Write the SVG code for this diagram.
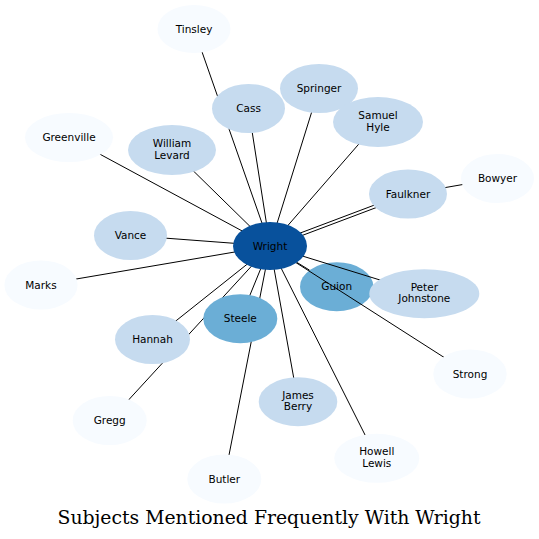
<svg xmlns="http://www.w3.org/2000/svg" width="539" height="539" viewBox="0 0 539 539">
<style>
.e{stroke:#000;stroke-width:1;fill:none}
.l0{fill:#f7fbff}
.l1{fill:#c6dbef}
.l2{fill:#6baed6}
.l3{fill:#08519c}
text{font-family:"DejaVu Sans","Liberation Sans",sans-serif;font-size:10.5px;fill:#000;text-anchor:middle}
.title{font-family:"DejaVu Serif","Liberation Serif",serif;font-size:18px}
</style>
<rect width="539" height="539" fill="#fff"/>
<g id="node-guion"><ellipse class="l2" cx="336.7" cy="286.7" rx="36.7" ry="24.5"/><text x="336.7" y="290.2">Guion</text></g>
<g id="connectors">
<line class="e" x1="270" y1="246" x2="194" y2="29"/>
<line class="e" x1="270" y1="246" x2="248.5" y2="108.5"/>
<line class="e" x1="270" y1="246" x2="319" y2="88.5"/>
<line class="e" x1="270" y1="246" x2="378" y2="122"/>
<line class="e" x1="270" y1="246" x2="69" y2="137.5"/>
<line class="e" x1="270" y1="246" x2="172" y2="150"/>
<line class="e" x1="270.5" y1="247.4" x2="408.5" y2="195.4"/>
<line class="e" x1="269.5" y1="244.6" x2="407.5" y2="192.6"/>
<line class="e" x1="408" y1="194" x2="497.5" y2="178.5"/>
<line class="e" x1="270" y1="246" x2="130.5" y2="235.5"/>
<line class="e" x1="270" y1="246" x2="41" y2="285"/>
<line class="e" x1="296.9" y1="262.4" x2="309.6" y2="270.2"/>
<line class="e" x1="270" y1="246" x2="424.3" y2="293.7"/>
<line class="e" x1="270" y1="246" x2="470" y2="374"/>
<line class="e" x1="270" y1="246" x2="152.5" y2="339.5"/>
<line class="e" x1="270" y1="246" x2="109.7" y2="420.5"/>
<line class="e" x1="270" y1="246" x2="240.3" y2="318.7"/>
<line class="e" x1="270" y1="246" x2="224.3" y2="479"/>
<line class="e" x1="270" y1="246" x2="298" y2="401.7"/>
<line class="e" x1="270" y1="246" x2="376.8" y2="458.3"/>
</g>
<g id="node-tinsley"><ellipse class="l0" cx="194" cy="29" rx="36.5" ry="24"/><text x="194" y="32.5">Tinsley</text></g>
<g id="node-cass"><ellipse class="l1" cx="248.5" cy="108.5" rx="36.5" ry="24.5"/><text x="248.5" y="112">Cass</text></g>
<g id="node-springer"><ellipse class="l1" cx="319" cy="88.5" rx="39" ry="24.5"/><text x="319" y="92">Springer</text></g>
<g id="node-samuel-hyle"><ellipse class="l1" cx="378" cy="122" rx="45" ry="25"/><text x="378" y="119">Samuel</text><text x="378" y="130.7">Hyle</text></g>
<g id="node-greenville"><ellipse class="l0" cx="69" cy="137.5" rx="44" ry="24.5"/><text x="69" y="141">Greenville</text></g>
<g id="node-william-levard"><ellipse class="l1" cx="172" cy="150" rx="44" ry="25"/><text x="172" y="147">William</text><text x="172" y="158.7">Levard</text></g>
<g id="node-faulkner"><ellipse class="l1" cx="408" cy="194" rx="39" ry="24.5"/><text x="408" y="197.5">Faulkner</text></g>
<g id="node-bowyer"><ellipse class="l0" cx="497.5" cy="178.5" rx="36.5" ry="24.5"/><text x="497.5" y="182">Bowyer</text></g>
<g id="node-vance"><ellipse class="l1" cx="130.5" cy="235.5" rx="36.5" ry="24.5"/><text x="130.5" y="239">Vance</text></g>
<g id="node-marks"><ellipse class="l0" cx="41" cy="285" rx="36.6" ry="24.5"/><text x="41" y="288.5">Marks</text></g>
<g id="node-peter-johnstone"><ellipse class="l1" cx="424.3" cy="293.7" rx="55" ry="24.5"/><text x="424.3" y="290.7">Peter</text><text x="424.3" y="302.4">Johnstone</text></g>
<g id="node-hannah"><ellipse class="l1" cx="152.5" cy="339.5" rx="37.5" ry="24.5"/><text x="152.5" y="343">Hannah</text></g>
<g id="node-steele"><ellipse class="l2" cx="240.3" cy="318.7" rx="37" ry="24.5"/><text x="240.3" y="322.2">Steele</text></g>
<g id="node-strong"><ellipse class="l0" cx="470" cy="374" rx="36.7" ry="24.5"/><text x="470" y="377.5">Strong</text></g>
<g id="node-james-berry"><ellipse class="l1" cx="298" cy="401.7" rx="39.3" ry="24.5"/><text x="298" y="398.7">James</text><text x="298" y="410.4">Berry</text></g>
<g id="node-gregg"><ellipse class="l0" cx="109.7" cy="420.5" rx="37" ry="24.5"/><text x="109.7" y="424">Gregg</text></g>
<g id="node-butler"><ellipse class="l0" cx="224.3" cy="479" rx="37" ry="24.5"/><text x="224.3" y="482.5">Butler</text></g>
<g id="node-howell-lewis"><ellipse class="l0" cx="376.8" cy="458.3" rx="42.5" ry="24.5"/><text x="376.8" y="455.3">Howell</text><text x="376.8" y="467">Lewis</text></g>
<g id="node-wright"><ellipse class="l3" cx="270" cy="246" rx="37" ry="24"/><text x="270" y="249.5">Wright</text></g>
<text class="title" x="269" y="524" textLength="423" lengthAdjust="spacingAndGlyphs">Subjects Mentioned Frequently With Wright</text>
</svg>
